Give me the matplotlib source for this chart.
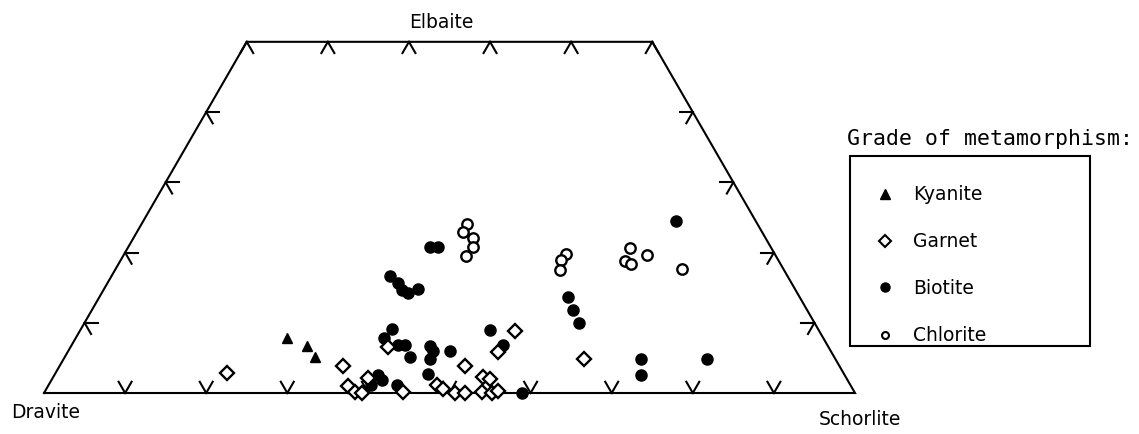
"""Tourmaline compositions plotted in the Dravite-Elbaite-Schorlite triangle"""
import numpy as np
import matplotlib
matplotlib.use("Agg")
import matplotlib.pyplot as plt

# compositions in percent (Elbaite, Schorlite), Dravite is the rest
kyanite_elb = [7.9, 6.7, 5.1]
kyanite_sch = [26.0, 29.1, 30.9]

garnet_elb = [2.9, 3.9, 1.0, 0.2, 0.0, 2.2, 6.6, 0.1, 1.1, 0.6, 0.0,
              0.0, 3.9, 2.3, 2.0, 0.2, 0.0, 0.3, 5.9, 8.8, 4.8]
garnet_sch = [21.1, 34.9, 37.0, 38.3, 39.2, 38.9, 39.1, 44.2, 47.9, 48.9, 50.7,
              51.9, 50.0, 53.0, 54.0, 53.9, 55.2, 55.8, 53.0, 53.7, 64.2]

biotite_elb = [20.8, 20.8, 16.7, 15.6, 14.6, 14.2, 14.8, 9.1, 7.9, 6.9, 6.8,
               5.1, 6.7, 6.0, 4.8, 2.7, 6.0, 8.9, 6.8, 2.6, 1.9, 1.2, 1.1,
               0.0, 13.7, 11.8, 10.0, 4.9, 2.6, 4.8, 24.5]
biotite_sch = [37.2, 38.2, 34.3, 35.8, 36.8, 37.8, 38.7, 38.4, 38.0, 40.2, 41.1,
               42.6, 44.3, 45.0, 45.2, 46.0, 47.1, 50.6, 53.2, 39.9, 40.7, 39.7, 43.0,
               58.9, 57.8, 59.3, 61.0, 71.2, 72.3, 79.3, 65.7]

chlorite_elb = [24.1, 22.9, 22.1, 20.8, 19.5, 19.8, 18.9, 17.5, 20.6, 18.8,
                18.4, 19.6, 17.6]
chlorite_sch = [40.1, 40.2, 41.9, 42.5, 42.3, 54.5, 54.3, 54.9, 62.0, 62.3,
                63.2, 64.6, 69.9]

corner_labels = ["Dravite", "Elbaite", "Schorlite"]
grades = ["Kyanite", "Garnet", "Biotite", "Chlorite"]

H = np.sqrt(3) / 2


def tern(elb, sch):
    e = np.asarray(elb) / 100.0
    s = np.asarray(sch) / 100.0
    return s + e / 2, e * H


fig = plt.figure(figsize=(11.39, 4.35), dpi=100)
ax = fig.add_axes([0, 0, 1, 1])
ax.set_xlim(-44 / 811, 1095 / 811)
ax.set_ylim(-41 / 811, 394 / 811)
ax.set_aspect("equal")
ax.axis("off")

lw = 1.5
# truncated triangle, Elbaite cut at 50 %
ex, ey = tern([0, 50, 50, 0, 0], [0, 0, 50, 100, 0])
ax.plot(ex, ey, color="black", lw=lw, solid_joinstyle="miter", zorder=2)

# ternary ticks, short strokes parallel to the two other sides
L = 0.016
def tick(x0, y0, angles):
    for a in angles:
        r = np.deg2rad(a)
        ax.plot([x0, x0 + L * np.cos(r)], [y0, y0 + L * np.sin(r)],
                color="black", lw=lw, zorder=2)

for k in range(1, 10):
    tick(k / 10, 0, [60, 120])
for k in range(1, 5):
    x0, y0 = tern(k * 10, 0)
    tick(x0, y0, [0, -60])
    x0, y0 = tern(k * 10, 100 - k * 10)
    tick(x0, y0, [180, 240])
for k in range(0, 6):
    x0, y0 = tern(50, k * 10)
    tick(x0, y0, [240, 300])

ms = 8.0
x, y = tern(kyanite_elb, kyanite_sch)
ax.plot(x, y, "^", color="black", ms=7.5, ls="none", zorder=3)
x, y = tern(garnet_elb, garnet_sch)
ax.plot(x, y, "D", mfc="white", mec="black", mew=1.7, ms=7.5, ls="none", zorder=4)
x, y = tern(biotite_elb, biotite_sch)
ax.plot(x, y, "o", color="black", ms=ms, ls="none", zorder=3)
x, y = tern(chlorite_elb, chlorite_sch)
ax.plot(x, y, "o", mfc="white", mec="black", mew=1.7, ms=7.5, ls="none", zorder=4)

# all text and the legend box placed in figure pixels
W, Hp = 1139, 435
def fx(px):
    return px / W
def fy(py):
    return 1 - py / Hp

tfs = 13.5
fig.text(fx(46), fy(413), corner_labels[0], ha="center", va="center", fontsize=tfs)
fig.text(fx(441), fy(23), corner_labels[1], ha="center", va="center", fontsize=tfs)
fig.text(fx(860), fy(420), corner_labels[2], ha="center", va="center", fontsize=tfs)

fig.text(fx(847), fy(139), "Grade of metamorphism:", ha="left", va="center",
         family="DejaVu Sans Mono", fontsize=15.5)
fig.patches.append(plt.Rectangle((fx(850), fy(347)), fx(1090) - fx(850),
                                 fy(157) - fy(347), transform=fig.transFigure,
                                 fill=False, ec="black", lw=1.5))
leg_y = [195, 242, 288, 336]
styles = [dict(marker="^", color="black", ms=7.0),
          dict(marker="D", mfc="white", mec="black", mew=1.5, ms=6.0),
          dict(marker="o", color="black", ms=6.5),
          dict(marker="o", mfc="white", mec="black", mew=1.5, ms=5.0)]
for name, py, st in zip(grades, leg_y, styles):
    fig.add_artist(plt.Line2D([fx(885)], [fy(py)], ls="none",
                              transform=fig.transFigure, **st))
    fig.text(fx(913), fy(py), name, ha="left", va="center", fontsize=tfs)

fig.savefig("out.png", dpi=100)
